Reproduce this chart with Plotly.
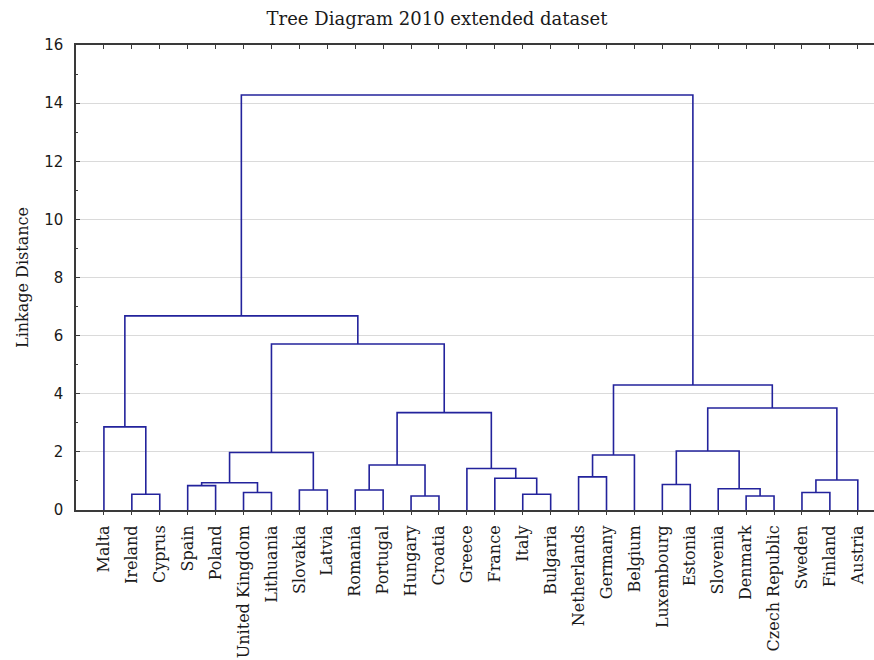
import plotly.graph_objects as go

# ---------------- data ----------------
leaves = ["Malta", "Ireland", "Cyprus", "Spain", "Poland", "United Kingdom",
          "Lithuania", "Slovakia", "Latvia", "Romania", "Portugal", "Hungary",
          "Croatia", "Greece", "France", "Italy", "Bulgaria", "Netherlands",
          "Germany", "Belgium", "Luxembourg", "Estonia", "Slovenia", "Denmark",
          "Czech Republic", "Sweden", "Finland", "Austria"]

# linkage: ids 0..27 are leaves, merge k creates cluster id 28 + k
merge_a = [1, 0, 3, 5, 30, 7, 32, 9, 11, 35, 15, 14, 13, 37, 34, 29,
           17, 44, 20, 23, 22, 46, 25, 50, 49, 45, 43]
merge_b = [2, 28, 4, 6, 31, 8, 33, 10, 12, 36, 16, 38, 39, 40, 41, 42,
           18, 19, 21, 24, 47, 48, 26, 27, 51, 52, 53]
merge_height = [0.54, 2.86, 0.84, 0.60, 0.94, 0.69, 1.98, 0.69, 0.48, 1.55,
                0.54, 1.09, 1.43, 3.35, 5.71, 6.68, 1.14, 1.89, 0.88, 0.48,
                0.73, 2.03, 0.60, 1.03, 3.51, 4.30, 14.28]

y_ticks = [0, 2, 4, 6, 8, 10, 12, 14, 16]

# ---------------- build dendrogram segments ----------------
n = len(leaves)
pos = {i: float(i) for i in range(n)}
hgt = {i: 0.0 for i in range(n)}
xs, ys = [], []
for k, (a, b, h) in enumerate(zip(merge_a, merge_b, merge_height)):
    xa, xb = pos[a], pos[b]
    xs += [xa, xa, xb, xb, None]
    ys += [hgt[a], h, h, hgt[b], None]
    pos[n + k] = (xa + xb) / 2
    hgt[n + k] = h

LINE = "#23239c"
AX = "#3a3a3a"

fig = go.Figure()
fig.add_trace(go.Scatter(x=xs, y=ys, mode="lines",
                         line=dict(color=LINE, width=1.6),
                         hoverinfo="skip", showlegend=False))
# dummy trace for the top axis
fig.add_trace(go.Scatter(x=[0], y=[0], xaxis="x2", mode="markers",
                         marker=dict(opacity=0), hoverinfo="skip",
                         showlegend=False))

fig.update_layout(
    width=874, height=660,
    margin=dict(l=76, r=0, t=45, b=150),
    paper_bgcolor="white", plot_bgcolor="white",
    title=dict(text="Tree Diagram 2010 extended dataset",
               x=0.5, xanchor="center", y=0.971, yanchor="middle",
               yref="container",
               font=dict(family="DejaVu Serif", size=18, color="#1a1a1a")),
    xaxis=dict(range=[-1, 27.58], tickmode="array",
               tickvals=list(range(n)), ticktext=leaves, tickangle=-90,
               ticks="outside", ticklen=3, tickcolor=AX,
               showline=True, linecolor=AX, linewidth=2,
               showgrid=False, zeroline=False,
               tickfont=dict(family="DejaVu Serif", size=16, color="#1a1a1a"),
               ticklabelstandoff=4),
    xaxis2=dict(overlaying="x", side="top", matches="x",
                tickmode="array", tickvals=list(range(n)),
                showticklabels=False, ticks="inside", ticklen=4,
                tickcolor=AX, showline=True, linecolor=AX, linewidth=2,
                showgrid=False, zeroline=False),
    yaxis=dict(range=[0, 16], tickmode="array", tickvals=y_ticks,
               ticks="inside", ticklen=4, tickcolor=AX,
               minor=dict(dtick=1, ticks="inside", ticklen=2,
                          tickcolor=AX, showgrid=False),
               showline=True, linecolor=AX, linewidth=1.5,
               showgrid=True, gridcolor="#dadada", gridwidth=1,
               zeroline=False,
               tickfont=dict(family="DejaVu Sans", size=15, color="#1a1a1a"),
               ticklabelstandoff=8,
               title=dict(text="Linkage Distance", standoff=12,
                          font=dict(family="DejaVu Serif", size=16,
                                    color="#1a1a1a"))),
)

fig.write_html("out.html")
